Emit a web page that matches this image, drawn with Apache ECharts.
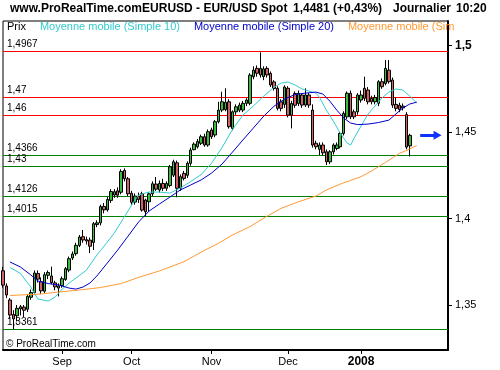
<!DOCTYPE html>
<html>
<head>
<meta charset="utf-8">
<script src="https://cdn.jsdelivr.net/npm/echarts@6/dist/echarts.min.js"></script>
<style>html,body{margin:0;padding:0;background:#fff;}#c{width:500px;height:370px;}</style>
</head>
<body>
<div id="c"></div>
<script>
// ---- DATA ----
const firstDay = '2007-08-09';
const lastDay = '2008-02-05';
const dataStart = '2007-08-13';
const openV = [1.3698,1.3610,1.3529,1.3445,1.3438,1.3478,1.3488,1.3476,1.3545,1.3572,
1.3682,1.3635,1.3580,1.3672,1.3668,1.3628,1.3598,1.3612,1.3648,1.3702,
1.3772,1.3797,1.3845,1.3895,1.3878,1.3875,1.3862,1.3965,1.3975,1.4070,
1.4050,1.4105,1.4136,1.4160,1.4152,1.4278,1.4230,1.4146,1.4095,1.4130,
1.4143,1.4107,1.4097,1.4143,1.4199,1.4165,1.4203,1.4175,1.4191,1.4251,
1.4322,1.4175,1.4261,1.4250,1.4319,1.4398,1.4415,1.4435,1.4473,1.4425,
1.4512,1.4483,1.4560,1.4627,1.4630,1.4675,1.4521,1.4617,1.4627,1.4627,
1.4666,1.4666,1.4820,1.4868,1.4868,1.4820,1.4868,1.4839,1.4790,1.4753,
1.4675,1.4660,1.4753,1.4598,1.4723,1.4665,1.4714,1.4656,1.4714,1.4627,
1.4435,1.4400,1.4425,1.4386,1.4328,1.4386,1.4405,1.4415,1.4492,1.4588,
1.4724,1.4617,1.4617,1.4685,1.4753,1.4743,1.4695,1.4675,1.4666,1.4791,
1.4781,1.4858,1.4801,1.4660,1.4655,1.4650,1.4601,1.4420];
const closeV = [1.3615,1.3558,1.3442,1.3420,1.3481,1.3490,1.3470,1.3549,1.3572,1.3685,
1.3650,1.3582,1.3675,1.3688,1.3630,1.3605,1.3610,1.3652,1.3710,1.3768,
1.3795,1.3845,1.3893,1.3876,1.3870,1.3840,1.3970,1.3975,1.4069,1.4050,
1.4110,1.4156,1.4155,1.4135,1.4272,1.4230,1.4143,1.4094,1.4130,1.4110,
1.4049,1.4039,1.4143,1.4201,1.4170,1.4203,1.4175,1.4203,1.4299,1.4328,
1.4175,1.4242,1.4232,1.4319,1.4396,1.4430,1.4445,1.4473,1.4425,1.4502,
1.4473,1.4560,1.4627,1.4675,1.4672,1.4531,1.4617,1.4646,1.4656,1.4666,
1.4685,1.4829,1.4858,1.4840,1.4830,1.4865,1.4830,1.4772,1.4752,1.4637,
1.4637,1.4760,1.4598,1.4665,1.4655,1.4723,1.4656,1.4714,1.4656,1.4425,
1.4415,1.4425,1.4380,1.4328,1.4386,1.4425,1.4425,1.4492,1.4608,1.4724,
1.4588,1.4588,1.4714,1.4714,1.4695,1.4675,1.4675,1.4700,1.4791,1.4762,
1.4868,1.4791,1.4656,1.4637,1.4630,1.4640,1.4413,1.4481];
const lowV = [1.3600,1.3540,1.3420,1.3361,1.3405,1.3440,1.3430,1.3460,1.3530,1.3560,
1.3630,1.3565,1.3570,1.3650,1.3620,1.3585,1.3550,1.3600,1.3640,1.3690,
1.3760,1.3785,1.3835,1.3860,1.3850,1.3800,1.3818,1.3950,1.3960,1.4030,
1.4040,1.4090,1.4120,1.4120,1.4140,1.4215,1.4130,1.4080,1.4080,1.4090,
1.4040,1.4011,1.4040,1.4130,1.4160,1.4150,1.4160,1.4160,1.4180,1.4240,
1.4123,1.4160,1.4220,1.4235,1.4305,1.4395,1.4405,1.4425,1.4415,1.4415,
1.4460,1.4470,1.4550,1.4615,1.4620,1.4520,1.4510,1.4600,1.4615,1.4615,
1.4650,1.4655,1.4805,1.4820,1.4815,1.4800,1.4815,1.4760,1.4740,1.4625,
1.4620,1.4640,1.4585,1.4521,1.4640,1.4650,1.4640,1.4645,1.4640,1.4410,
1.4400,1.4367,1.4365,1.4309,1.4315,1.4370,1.4395,1.4405,1.4480,1.4575,
1.4575,1.4575,1.4600,1.4670,1.4680,1.4660,1.4660,1.4660,1.4650,1.4750,
1.4770,1.4780,1.4640,1.4620,1.4615,1.4625,1.4400,1.4359];
const highV = [1.3721,1.3625,1.3540,1.3470,1.3500,1.3500,1.3500,1.3560,1.3590,1.3700,
1.3700,1.3660,1.3690,1.3700,1.3722,1.3640,1.3625,1.3665,1.3720,1.3780,
1.3810,1.3860,1.3905,1.3934,1.3895,1.3890,1.3980,1.3990,1.4080,1.4090,
1.4125,1.4170,1.4170,1.4180,1.4285,1.4290,1.4240,1.4160,1.4145,1.4150,
1.4155,1.4115,1.4150,1.4215,1.4240,1.4220,1.4230,1.4215,1.4310,1.4340,
1.4335,1.4255,1.4275,1.4330,1.4410,1.4440,1.4460,1.4485,1.4490,1.4515,
1.4525,1.4570,1.4675,1.4733,1.4753,1.4690,1.4625,1.4660,1.4670,1.4680,
1.4695,1.4840,1.4880,1.4885,1.4961,1.4880,1.4880,1.4850,1.4800,1.4765,
1.4690,1.4770,1.4765,1.4680,1.4735,1.4740,1.4725,1.4753,1.4725,1.4660,
1.4450,1.4440,1.4440,1.4400,1.4395,1.4435,1.4440,1.4500,1.4620,1.4735,
1.4740,1.4630,1.4725,1.4740,1.4820,1.4760,1.4710,1.4715,1.4800,1.4810,
1.4916,1.4916,1.4815,1.4700,1.4670,1.4665,1.4615,1.4490];
// moving averages: [day index, value]
const ma10 = [[0,1.3717],[3,1.3683],[6,1.3604],[8,1.3535],[11,1.3523],[13,1.3546],[15,1.3592],[17,1.3627],
[19,1.3656],[22,1.3702],[25,1.3789],[28,1.3864],[30,1.3916],[32,1.3980],[35,1.4078],[37,1.4136],[40,1.4153],
[43,1.4153],[46,1.4147],[49,1.4176],[52,1.4214],[55,1.4254],[58,1.4320],[61,1.4410],[64,1.4515],[67,1.4598],
[70,1.4650],[73,1.4708],[76,1.4760],[78,1.4783],[80,1.4789],[82,1.4772],[84,1.4749],[86,1.4737],[88,1.4725],
[89,1.4702],[91,1.4627],[93,1.4564],[95,1.4494],[97,1.4436],[98,1.4425],[99,1.4465],[101,1.4535],[103,1.4604],
[105,1.4650],[107,1.4697],[109,1.4731],[111,1.4749],[113,1.4743],[115,1.4708],[117,1.4668]];
const ma20 = [[0,1.3749],[3,1.3720],[6,1.3674],[8,1.3639],[11,1.3624],[14,1.3616],[17,1.3598],[19,1.3592],
[21,1.3604],[23,1.3627],[25,1.3668],[28,1.3743],[31,1.3818],[34,1.3899],[37,1.3980],[40,1.4043],[43,1.4084],
[46,1.4124],[49,1.4165],[52,1.4194],[55,1.4223],[58,1.4263],[61,1.4315],[64,1.4384],[67,1.4454],[70,1.4523],
[73,1.4592],[76,1.4650],[79,1.4691],[82,1.4717],[85,1.4725],[88,1.4731],[90,1.4720],[92,1.4679],[94,1.4627],
[96,1.4581],[98,1.4552],[100,1.4543],[103,1.4546],[106,1.4555],[109,1.4569],[111,1.4604],[113,1.4639],
[115,1.4662],[117,1.4673]];
const ma200 = [[0,1.3555],[9,1.3564],[14,1.3575],[20,1.3587],[26,1.3601],[32,1.3624],[37,1.3660],[43,1.3697],
[50,1.3750],[55,1.3806],[60,1.3857],[64,1.3905],[69,1.3953],[74,1.4014],[78,1.4059],[83,1.4097],[88,1.4130],
[91,1.4165],[95,1.4199],[101,1.4242],[104,1.4275],[108,1.4324],[112,1.4376],[115,1.4402],[117,1.4422]];
const resistLevels = [1.4967, 1.47, 1.46];
const supportLevels = [1.4366, 1.43, 1.4126, 1.4015, 1.3361];
const yTicks = [1.35, 1.4, 1.45, 1.5];
const tickDates = ['2007-09-03','2007-10-01','2007-11-01','2007-12-03','2008-01-01'];
const tickLabels = ['Sep','Oct','Nov','Dec','2008'];
const lastPrice = 1.4481;
const names = ['Prix','Moyenne mobile (Simple 10)','Moyenne mobile (Simple 20)','Moyenne mobile (Simple 200)'];

// ---- BUILD ----
function weekdays(a, b) {
  const out = [];
  const d = new Date(a + 'T00:00:00Z');
  const e = new Date(b + 'T00:00:00Z');
  while (d <= e) {
    const w = d.getUTCDay();
    if (w !== 0 && w !== 6) out.push(d.toISOString().slice(0, 10));
    d.setUTCDate(d.getUTCDate() + 1);
  }
  return out;
}
const dates = weekdays(firstDay, lastDay);
const off = dates.indexOf(dataStart);
const candles = openV.map((o, i) => [o, closeV[i], lowV[i], highV[i]]);
const maPts = arr => arr.map(p => [dates[off + p[0]], p[1]]);
const lastIdx = off + closeV.length - 1;
const FF = '"Liberation Sans", Arial, sans-serif';
const fmt = v => String(v).replace('.', ',');

const levelLines = resistLevels.map(v => ({name: fmt(v), yAxis: v, lineStyle: {color: '#ff0000'}}))
  .concat(supportLevels.map(v => ({name: fmt(v), yAxis: v, lineStyle: {color: '#008000'}})));

const chart = echarts.init(document.getElementById('c'), null, {renderer: 'canvas'});
chart.setOption({
  animation: false,
  backgroundColor: '#fff',
  textStyle: {fontFamily: FF},
  graphic: [
    {type: 'text', x: 10, y: 9, style: {text: 'www.ProRealTime.comEURUSD - EUR/USD Spot', font: 'bold 12px ' + FF, fill: '#000', verticalAlign: 'middle'}},
    {type: 'text', x: 293, y: 9, style: {text: '1,4481 (+0,43%)', font: 'bold 12px ' + FF, fill: '#000', verticalAlign: 'middle'}},
    {type: 'text', x: 393, y: 9, style: {text: 'Journalier', font: 'bold 12px ' + FF, fill: '#000', verticalAlign: 'middle'}},
    {type: 'text', x: 456, y: 9, style: {text: '10:20', font: 'bold 12px ' + FF, fill: '#000', verticalAlign: 'middle'}},
    {type: 'text', x: 6, y: 344, z: 10, style: {text: '© ProRealTime.com', font: '10px ' + FF, fill: '#000', verticalAlign: 'middle'}}
  ],
  legend: {
    left: 2, top: 21, padding: 0, itemWidth: 0, itemHeight: 0, itemGap: 9, icon: 'none', selectedMode: false,
    textStyle: {fontSize: 11, fontFamily: FF},
    data: [
      {name: names[0], textStyle: {color: '#000'}},
      {name: names[1], textStyle: {color: '#33cccc'}},
      {name: names[2], textStyle: {color: '#0000cc'}},
      {name: names[3], textStyle: {color: '#ff9933', width: 110, overflow: 'truncate', ellipsis: ''}}
    ]
  },
  grid: {left: 3, right: 52, top: 21, bottom: 20, show: true, borderColor: '#000', borderWidth: 1, backgroundColor: '#fff'},
  xAxis: {
    type: 'category', data: dates, boundaryGap: false,
    axisLine: {lineStyle: {color: '#000', width: 2}},
    axisTick: {length: 4, lineStyle: {color: '#000'}, interval: (i, v) => tickDates.includes(v)},
    axisLabel: {
      interval: (i, v) => tickDates.includes(v), margin: 6, fontSize: 11, color: '#000', fontFamily: FF,
      formatter: v => { const k = tickDates.indexOf(v); const t = tickLabels[k]; return /^\d+$/.test(t) ? '{b|' + t + '}' : t; },
      rich: {b: {fontWeight: 'bold', fontSize: 12, fontFamily: FF, color: '#000'}}
    },
    splitLine: {show: false}
  },
  yAxis: {
    type: 'value', position: 'right', min: 1.3240, max: 1.5142,
    axisLine: {show: true, lineStyle: {color: '#000', width: 2}},
    axisTick: {show: true, length: 4, customValues: yTicks, lineStyle: {color: '#000'}},
    axisLabel: {
      customValues: yTicks, margin: 7, fontSize: 11, color: '#000', fontFamily: FF,
      formatter: v => v === 1.5 ? '{b|' + fmt(v) + '}' : fmt(v),
      rich: {b: {fontWeight: 'bold', fontSize: 12, fontFamily: FF, color: '#000'}}
    },
    splitLine: {show: false}
  },
  series: [
    {
      name: names[0], type: 'candlestick', data: candles, barWidth: 3, z: 3,
      itemStyle: {color: '#3cbc3c', color0: '#d06464', borderColor: '#000', borderColor0: '#000', borderWidth: 1},
      markLine: {
        silent: true, symbol: 'none', z: 1, precision: 4,
        lineStyle: {type: 'solid', width: 1},
        label: {position: 'insideStartTop', distance: [4, 2], fontSize: 10, color: '#000', fontFamily: FF, formatter: '{b}'},
        data: levelLines
      }
    },
    {
      name: names[1], type: 'line', data: maPts(ma10), symbol: 'none', z: 4,
      lineStyle: {color: '#33cccc', width: 1}, itemStyle: {color: '#33cccc'},
      markLine: {
        silent: true, symbol: ['none', 'triangle'], symbolSize: [9, 8],
        lineStyle: {color: '#1030ff', width: 3, type: 'solid'}, label: {show: false},
        data: [[{coord: [dates[lastIdx + 1], lastPrice]}, {coord: [dates[lastIdx + 6], lastPrice]}]]
      }
    },
    {name: names[2], type: 'line', data: maPts(ma20), symbol: 'none', z: 4, lineStyle: {color: '#0000cc', width: 1}, itemStyle: {color: '#0000cc'}},
    {name: names[3], type: 'line', data: maPts(ma200), symbol: 'none', z: 4, lineStyle: {color: '#ff9933', width: 1}, itemStyle: {color: '#ff9933'}}
  ]
});
</script>
</body>
</html>
